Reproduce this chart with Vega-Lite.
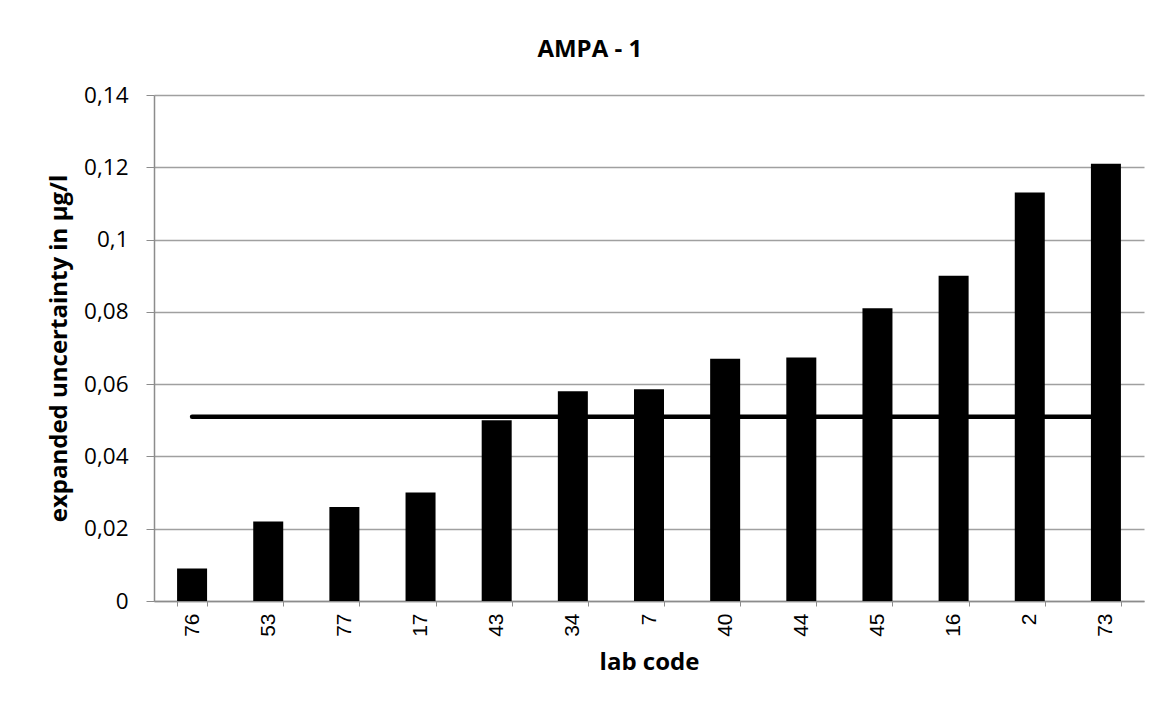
{
  "$schema": "https://vega.github.io/schema/vega-lite/v6.json",
  "autosize": {"type": "none"},
  "width": 990,
  "height": 506,
  "padding": {"left": 154, "top": 95, "right": 20, "bottom": 112},
  "background": "white",
  "title": {
    "text": "AMPA - 1",
    "font": "Open Sans",
    "fontSize": 24,
    "fontWeight": "bold",
    "color": "black",
    "anchor": "middle",
    "frame": "bounds",
    "dx": -6,
    "offset": 22
  },
  "data": {
    "values": [
      {"lab": "76", "u": 0.009, "ref": 0.051},
      {"lab": "53", "u": 0.022, "ref": 0.051},
      {"lab": "77", "u": 0.026, "ref": 0.051},
      {"lab": "17", "u": 0.030, "ref": 0.051},
      {"lab": "43", "u": 0.050, "ref": 0.051},
      {"lab": "34", "u": 0.058, "ref": 0.051},
      {"lab": "7", "u": 0.0586, "ref": 0.051},
      {"lab": "40", "u": 0.067, "ref": 0.051},
      {"lab": "44", "u": 0.0674, "ref": 0.051},
      {"lab": "45", "u": 0.081, "ref": 0.051},
      {"lab": "16", "u": 0.090, "ref": 0.051},
      {"lab": "2", "u": 0.113, "ref": 0.051},
      {"lab": "73", "u": 0.121, "ref": 0.051}
    ]
  },
  "encoding": {
    "x": {
      "field": "lab",
      "type": "nominal",
      "sort": null,
      "scale": {"paddingInner": 0.606, "paddingOuter": 0.303},
      "axis": {
        "title": "lab code",
        "titleFont": "Open Sans",
        "titleFontSize": 24,
        "titleFontWeight": "bold",
        "titleColor": "black",
        "titlePadding": 14,
        "labelFont": "Liberation Sans",
        "labelFontSize": 21,
        "labelColor": "black",
        "labelAngle": -90,
        "labelAlign": "right",
        "labelBaseline": "middle",
        "labelPadding": 7,
        "tickBand": "extent",
        "tickSize": 5,
        "tickColor": "#8c8c8c",
        "domainColor": "#8c8c8c",
        "domainWidth": 1.5,
        "grid": false
      }
    }
  },
  "layer": [
    {
      "mark": {"type": "line", "color": "black", "strokeWidth": 4.5, "strokeCap": "round"},
      "encoding": {
        "y": {"field": "ref", "type": "quantitative"}
      }
    },
    {
      "mark": {"type": "bar", "color": "black"},
      "encoding": {
        "y": {
          "field": "u",
          "type": "quantitative",
          "scale": {"domain": [0, 0.14], "nice": false},
          "axis": {
            "title": "expanded uncertainty in µg/l",
            "titleFont": "Open Sans",
            "titleFontSize": 24,
            "titleFontWeight": "bold",
            "titleColor": "black",
            "titlePadding": 12,
            "values": [0, 0.02, 0.04, 0.06, 0.08, 0.1, 0.12, 0.14],
            "labelExpr": "replace(format(datum.value, '.2~f'), '.', ',')",
            "labelFont": "Open Sans",
            "labelFontSize": 22.5,
            "labelColor": "black",
            "labelPadding": 18,
            "tickSize": 8,
            "tickColor": "#8c8c8c",
            "domainColor": "#8c8c8c",
            "domainWidth": 1.5,
            "gridColor": "#a0a0a0",
            "gridWidth": 1.3
          }
        }
      }
    }
  ],
  "config": {
    "view": {"stroke": null}
  }
}
